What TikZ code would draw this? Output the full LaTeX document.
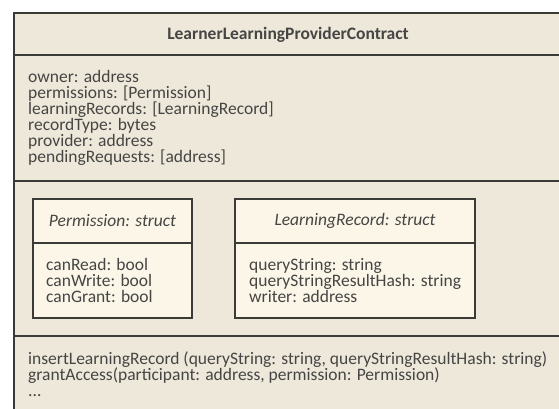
\documentclass[tikz,border=0pt]{standalone}
\usepackage{fontspec}
\setmainfont{Carlito}
\definecolor{pagebg}{HTML}{FFFFFF}
\definecolor{classbg}{HTML}{EEE8DA}
\definecolor{structbg}{HTML}{FBF6E8}
\definecolor{edge}{HTML}{3A3A36}
\definecolor{ink}{HTML}{454543}
\newcommand{\umlfont}{\fontsize{17.5}{16}\selectfont}
\tikzset{
  frame/.style={draw=edge, line width=1.8pt},
  divider/.style={draw=edge, line width=1.8pt},
  structbox/.style={draw=edge, line width=1.6pt, fill=structbg},
  members/.style={anchor=north west, inner sep=0pt, align=left, text=ink,
    font=\umlfont},
  heading/.style={inner sep=0pt, text=ink, font=\umlfont},
}
\begin{document}
\begin{tikzpicture}[x=1pt, y=-1pt]
\useasboundingbox (0,0) rectangle (559,408);
\fill[pagebg] (0,0) rectangle (559,408);
\begin{scope}
\clip (0,0) rectangle (559,408);
% class outline and compartments
\path[frame, fill=classbg] (14,13) rectangle (563,430);
\draw[divider] (14,55) -- (563,55);
\draw[divider] (14,181) -- (563,181);
\draw[divider] (14,336) -- (563,336);
\end{scope}

% class name
\node[heading, font=\umlfont\bfseries] (title) at (288,35) {LearnerLearningProviderContract};

% attributes
\node[members] (attrs) at (28,70) {owner: address\\
permissions: [Permission]\\
learningRecords: [LearningRecord]\\
recordType: bytes\\
provider: address\\
pendingRequests: [address]};

% nested struct: Permission
\path[structbox] (33,199) rectangle (192,318);
\draw[divider, line width=1.6pt] (33,243) -- (192,243);
\node[heading, font=\umlfont\itshape] (permname) at (112.5,221) {Permission: struct};
\node[members] (permattrs) at (46,258) {canRead: bool\\
canWrite: bool\\
canGrant: bool};

% nested struct: LearningRecord
\path[structbox] (235,199) rectangle (475,318);
\draw[divider, line width=1.6pt] (235,243) -- (475,243);
\node[heading, font=\umlfont\itshape] (recname) at (355,221) {LearningRecord: struct};
\node[members] (recattrs) at (249,258) {queryString: string\\
queryStringResultHash: string\\
writer: address};

% operations
\node[members] (ops) at (28,351) {insertLearningRecord (queryString: string, queryStringResultHash: string)\\
grantAccess(participant: address, permission: Permission)\\
...};
\end{tikzpicture}
\end{document}
